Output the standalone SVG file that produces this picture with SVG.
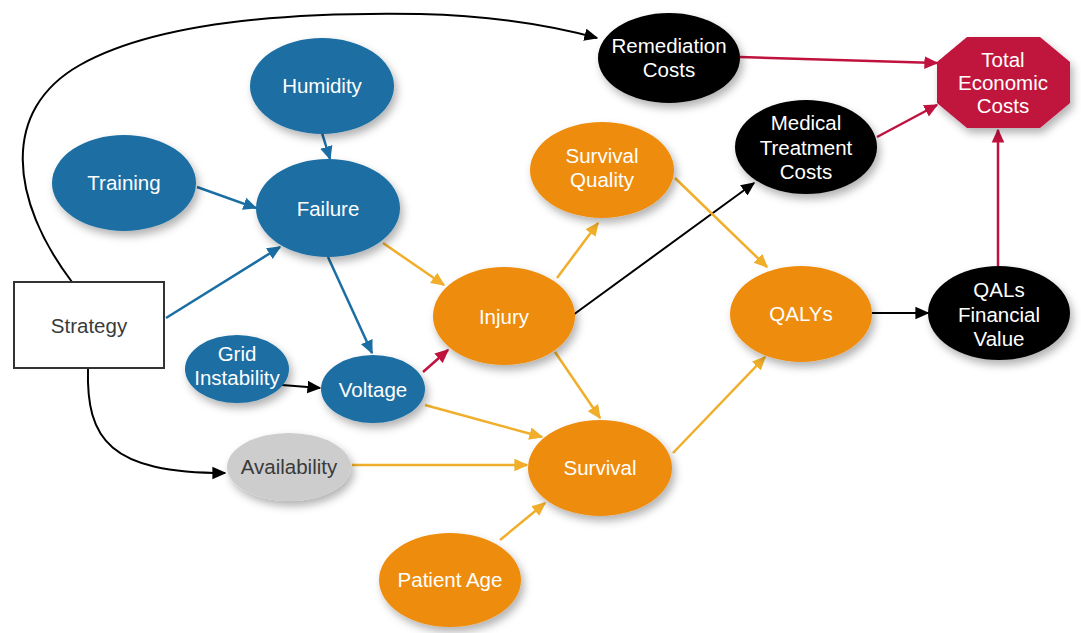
<svg xmlns="http://www.w3.org/2000/svg" width="1081" height="633" viewBox="0 0 1081 633">
<defs>
<filter id="sh" x="-30%" y="-30%" width="160%" height="170%"><feDropShadow dx="3" dy="5" stdDeviation="4" flood-color="#000" flood-opacity="0.3"/></filter>
<marker id="ak" viewBox="0 0 10 10" refX="9" refY="5" markerWidth="14" markerHeight="14" markerUnits="userSpaceOnUse" orient="auto"><path d="M0,0.5 L10,5 L0,9.5 z" fill="#000"/></marker>
<marker id="ab" viewBox="0 0 10 10" refX="9" refY="5" markerWidth="14" markerHeight="14" markerUnits="userSpaceOnUse" orient="auto"><path d="M0,0.5 L10,5 L0,9.5 z" fill="#1a6ea3"/></marker>
<marker id="ao" viewBox="0 0 10 10" refX="9" refY="5" markerWidth="14" markerHeight="14" markerUnits="userSpaceOnUse" orient="auto"><path d="M0,0.5 L10,5 L0,9.5 z" fill="#f0ae2a"/></marker>
<marker id="ar" viewBox="0 0 10 10" refX="9" refY="5" markerWidth="14" markerHeight="14" markerUnits="userSpaceOnUse" orient="auto"><path d="M0,0.5 L10,5 L0,9.5 z" fill="#c0123e"/></marker>
</defs>
<style>
text{font-family:"Liberation Sans",Arial,sans-serif;font-size:20.5px;text-anchor:middle;fill:#fff}
.blue{fill:#1a6ea3;filter:url(#sh)}
.orange{fill:#ee8c0c;filter:url(#sh)}
.black{fill:#000;filter:url(#sh)}
.gray{fill:#cdcdcd;filter:url(#sh)}
.red{fill:#c0123e;filter:url(#sh)}
.dark{fill:#3a3a3a}
.ck{stroke:#000;stroke-width:2;fill:none;marker-end:url(#ak)}
.cb{stroke:#1a6ea3;stroke-width:2.5;fill:none;marker-end:url(#ab)}
.co{stroke:#f0ae2a;stroke-width:2.5;fill:none;marker-end:url(#ao)}
.cr{stroke:#c0123e;stroke-width:2.5;fill:none;marker-end:url(#ar)}
</style>
<rect width="1081" height="633" fill="#fff"/>
<g id="connectors">
<path class="ck" d="M72,282 C10,200 0,110 80,65 C160,20 300,12 420,14 C500,16 560,28 597,38"/>
<path class="ck" d="M88,368 C86,440 110,473 225,473"/>
<path class="cb" d="M166,318 L280,247"/>
<path class="cb" d="M197,187 L256,208"/>
<path class="cb" d="M322,133 L330,159"/>
<path class="cb" d="M328,257 L372,353"/>
<path class="ck" d="M282,385 L320,388"/>
<path class="cr" d="M423,372 L448,350"/>
<path class="co" d="M383,243 L444,285"/>
<path class="co" d="M425,405 L542,437"/>
<path class="co" d="M352,465 L527,465"/>
<path class="co" d="M555,352 L600,418"/>
<path class="co" d="M557,278 L598,223"/>
<path class="ck" d="M573,315 L754,183"/>
<path class="co" d="M675,178 L767,267"/>
<path class="co" d="M673,453 L765,357"/>
<path class="co" d="M500,540 L545,503"/>
<path class="ck" d="M872,313 L928,313"/>
<path class="cr" d="M998,266 L998,130"/>
<path class="cr" d="M740,57 L937,63"/>
<path class="cr" d="M877,137 L937,105"/>
</g>
<g id="remediation"><ellipse class="black" cx="669" cy="58" rx="71" ry="45"/><text x="669" y="53">Remediation</text><text x="669" y="77">Costs</text></g>
<g id="total"><polygon class="red" points="967,37 1040,37 1070,62 1070,103 1040,128 967,128 937,103 937,62"/><text x="1003" y="67">Total</text><text x="1003" y="90">Economic</text><text x="1003" y="113">Costs</text></g>
<g id="medical"><ellipse class="black" cx="806" cy="147" rx="71" ry="47"/><text x="806" y="130">Medical</text><text x="806" y="155">Treatment</text><text x="806" y="179">Costs</text></g>
<g id="survivalquality"><ellipse class="orange" cx="602" cy="170" rx="72" ry="48"/><text x="602" y="163">Survival</text><text x="602" y="187">Quality</text></g>
<g id="humidity"><ellipse class="blue" cx="322" cy="86" rx="72" ry="48"/><text x="322" y="93">Humidity</text></g>
<g id="training"><ellipse class="blue" cx="124" cy="183" rx="72" ry="48"/><text x="124" y="190">Training</text></g>
<g id="failure"><ellipse class="blue" cx="328" cy="208" rx="72" ry="49"/><text x="328" y="216">Failure</text></g>
<g id="injury"><ellipse class="orange" cx="504" cy="316" rx="71" ry="49"/><text x="504" y="324">Injury</text></g>
<g id="qalys"><ellipse class="orange" cx="801" cy="314" rx="71" ry="48"/><text x="801" y="321">QALYs</text></g>
<g id="qals"><ellipse class="black" cx="999" cy="313" rx="71" ry="47"/><text x="999" y="297">QALs</text><text x="999" y="322">Financial</text><text x="999" y="346">Value</text></g>
<g id="strategy"><rect x="14" y="282" width="150" height="86" fill="#fff" stroke="#333" stroke-width="2"/><text class="dark" x="89" y="333">Strategy</text></g>
<g id="grid"><ellipse class="blue" cx="237" cy="369" rx="52" ry="34"/><text x="237" y="361">Grid</text><text x="237" y="385">Instability</text></g>
<g id="voltage"><ellipse class="blue" cx="373" cy="389" rx="52" ry="34"/><text x="373" y="397">Voltage</text></g>
<g id="availability"><ellipse class="gray" cx="289" cy="467" rx="62" ry="34"/><text class="dark" x="289" y="474">Availability</text></g>
<g id="survival"><ellipse class="orange" cx="600" cy="468" rx="72" ry="48"/><text x="600" y="475">Survival</text></g>
<g id="patientage"><ellipse class="orange" cx="450" cy="580" rx="71" ry="47"/><text x="450" y="587">Patient Age</text></g>
</svg>
